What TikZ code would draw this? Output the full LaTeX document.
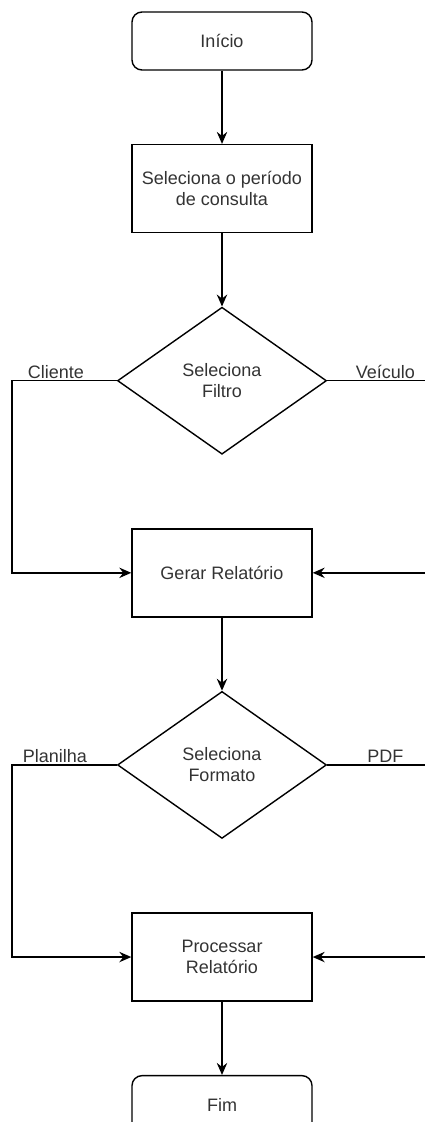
\documentclass[tikz,border=0pt]{standalone}
\usepackage{fontspec}
\setmainfont{Liberation Sans}
\usepackage{tikz}
\usetikzlibrary{arrows.meta,shapes,positioning}
\definecolor{textcolor}{RGB}{51,51,51}

\begin{document}
\begin{tikzpicture}[
    node distance=1.83cm,
    terminal/.style={rectangle, draw, rounded corners=0.25cm, minimum width=4.5cm, minimum height=1.45cm, font=\fontsize{12.8}{15}\selectfont, text=textcolor, line width=1pt},
    box/.style={rectangle, draw, minimum width=4.5cm, minimum height=2.2cm, align=center, font=\fontsize{12.8}{15}\selectfont, text=textcolor, line width=1pt},
    decision/.style={diamond, draw, aspect=1.42, minimum width=5.225cm, minimum height=3.675cm, inner sep=0pt, align=center, font=\fontsize{12.8}{15}\selectfont, text=textcolor, line width=1pt},
    arrow/.style={-{Stealth[length=3mm, width=2.6mm, inset=1mm]}, line width=1pt},
    line/.style={line width=1pt},
    lbl/.style={above, inner sep=1pt, font=\fontsize{12.8}{15}\selectfont, text=textcolor}
]
    \useasboundingbox (0,0) rectangle (10.625,-28.05);

    % Main flow
    \node[terminal] (inicio) at (5.55,-1.025) {Início};
    \node[box, below=of inicio] (periodo) {Seleciona o período\\de consulta};
    \node[decision, below=of periodo] (filtro) {Seleciona\\Filtro};
    \node[box, below=of filtro] (gerar) {Gerar Relatório};
    \node[decision, below=of gerar] (formato) {Seleciona\\Formato};
    \node[box, below=of formato] (processar) {Processar\\Relatório};
    \node[terminal, below=of processar] (fim) {Fim};

    % Incoming from the right edge
    \coordinate[right=2.9cm of gerar.east] (gerarin);
    \coordinate[right=2.9cm of processar.east] (processarin);

    \draw[arrow] (inicio) -- (periodo);
    \draw[arrow] (periodo) -- (filtro);
    \draw[arrow] (gerar) -- (formato);
    \draw[arrow] (processar) -- (fim);

    % Filter branches
    \draw[arrow] (filtro.west) -- ++(-2.625,0) node[lbl, pos=0.58] {Cliente} |- (gerar.west);
    \draw[line] (filtro.east) -- ++(2.6,0) node[lbl, pos=0.56] {Veículo};
    \draw[arrow] (gerarin) -- (gerar.east);

    % Format branches
    \draw[arrow] (formato.west) -- ++(-2.625,0) node[lbl, pos=0.59] {Planilha} |- (processar.west);
    \draw[line] (formato.east) -- ++(2.6,0) node[lbl, pos=0.56] {PDF};
    \draw[arrow] (processarin) -- (processar.east);
\end{tikzpicture}
\end{document}
